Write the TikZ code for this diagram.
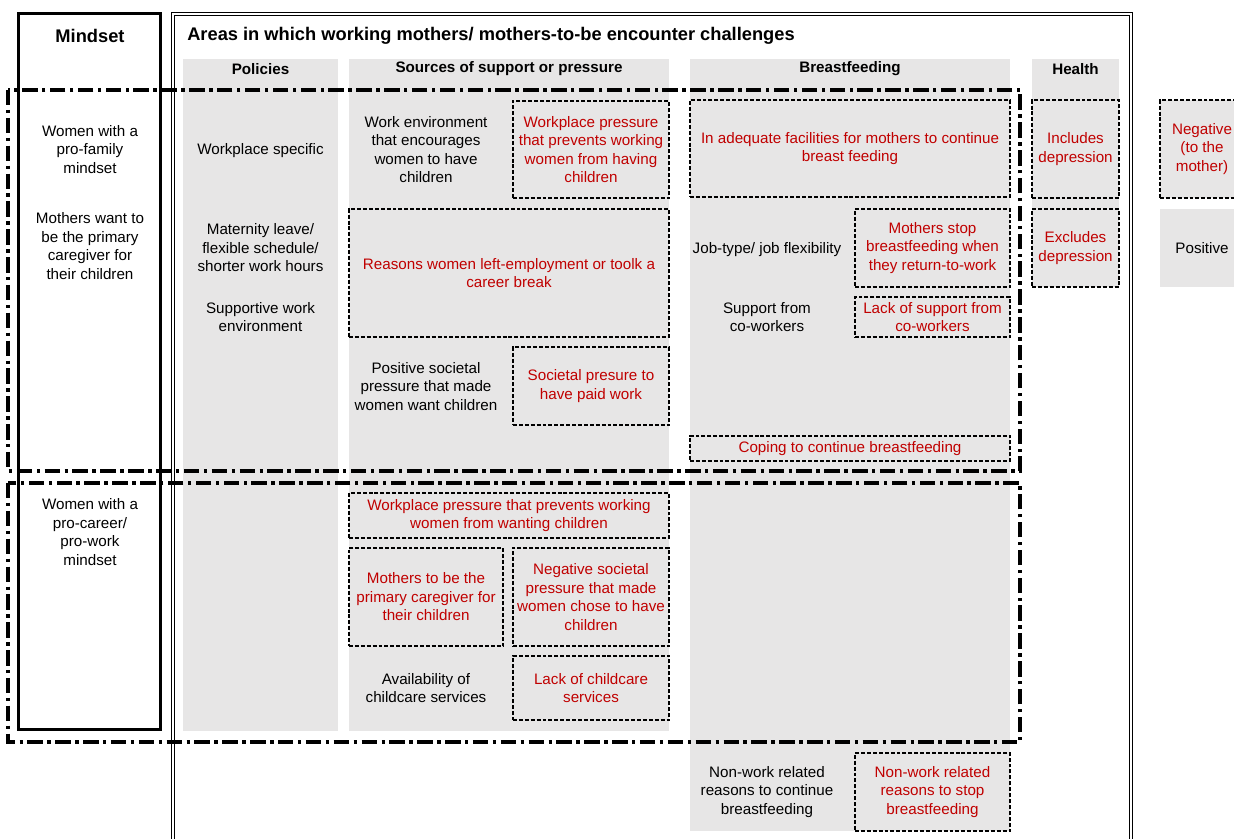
\documentclass[tikz,border=0pt]{standalone}
\usepackage{fontspec}
\setmainfont{Liberation Sans}
\definecolor{boxgrey}{HTML}{E7E6E6}
\definecolor{negred}{HTML}{C00000}

\begin{document}
\begin{tikzpicture}[x=0.025cm, y=-0.025cm,
    font=\fontsize{10.8}{13.2}\selectfont,
    boxsize/.style 2 args={minimum width=#1*0.025cm, minimum height=#2*0.025cm},
    plainbox/.style={align=center, inner sep=0pt},
    colfill/.style={fill=boxgrey, inner sep=0pt},
    negbox/.style={draw, fill=boxgrey, text=negred, align=center, inner sep=0pt,
      line width=1pt, dash pattern=on 2.8pt off 1.4pt},
    posbox/.style={fill=boxgrey, align=center, inner sep=0pt},
    heading/.style={inner sep=0pt, font=\fontsize{10.8}{13.2}\selectfont\bfseries},
    bighead/.style={inner sep=0pt, font=\fontsize{13}{15}\selectfont\bfseries},
    zone/.style={line width=2.5pt, dash pattern=on 11pt off 3.2pt on 2.4pt off 3.2pt}]
  \clip (0,0) rectangle (1234,839);

  % grey columns
  \node[colfill, boxsize={155}{672}] (polcol) at (260.5,395) {};
  \node[colfill, boxsize={320}{672}] (srccol) at (509,395) {};
  \node[colfill, boxsize={320}{772}] (bfcol) at (850,445) {};
  \node[colfill, boxsize={87}{228}] (hlthcol) at (1075.5,173) {};

  % frames
  \draw[double, line width=0.9pt, double distance=1.4pt] (173,14) rectangle (1131,900);
  \draw[line width=2.1pt] (18.5,13.5) rectangle (160.5,729.5);

  % headings
  \node[bighead] (mindhd) at (90,36) {Mindset};
  \node[bighead, anchor=west] (areashd) at (187,36) {Areas in which working mothers/ mothers-to-be encounter challenges};
  \node[heading] (polhd) at (260.5,69) {Policies};
  \node[heading] (srchd) at (509,69) {Sources of support or pressure};
  \node[heading] (bfhd) at (850,69) {Breastfeeding};
  \node[heading] (hlthhd) at (1075.5,69) {Health};

  % mindsets
  \node[plainbox] (profam) at (90,149.5) {Women with a\\pro-family\\mindset};
  \node[plainbox] (primary) at (90,246) {Mothers want to\\be the primary\\caregiver for\\their children};
  \node[plainbox] (procar) at (90,532) {Women with a\\pro-career/\\pro-work\\mindset};

  % policies
  \node[plainbox] (wpspec) at (260.5,151) {Workplace specific};
  \node[plainbox] (matleave) at (260.5,248) {Maternity leave/\\flexible schedule/\\shorter work hours};
  \node[plainbox] (suppenv) at (260.5,317) {Supportive work\\environment};

  % sources of support or pressure
  \node[plainbox] (workenv) at (426,149.5) {Work environment\\that encourages\\women to have\\children};
  \node[negbox, boxsize={156}{97}] (wphaving) at (591,149.5) {Workplace pressure\\that prevents working\\women from having\\children};
  \node[negbox, boxsize={320}{128}] (leftemp) at (509,273) {Reasons women left-employment or toolk a\\career break};
  \node[plainbox] (possoc) at (426,386.5) {Positive societal\\pressure that made\\women want children};
  \node[negbox, boxsize={156}{78}] (paidwork) at (591,386) {Societal presure to\\have paid work};
  \node[negbox, boxsize={320}{45}] (wpwanting) at (509,515.5) {Workplace pressure that prevents working\\women from wanting children};
  \node[negbox, boxsize={154}{98}] (caregiver) at (426,597) {Mothers to be the\\primary caregiver for\\their children};
  \node[negbox, boxsize={156}{98}] (negsoc) at (591,597) {Negative societal\\pressure that made\\women chose to have\\children};
  \node[plainbox] (childcare) at (426,688) {Availability of\\childcare services};
  \node[negbox, boxsize={156}{64}] (nochildcare) at (591,688) {Lack of childcare\\services};

  % breastfeeding
  \node[negbox, boxsize={320}{97}] (facilities) at (850,148.5) {In adequate facilities for mothers to continue\\breast feeding};
  \node[plainbox] (jobtype) at (767,250) {Job-type/ job flexibility};
  \node[negbox, boxsize={155}{78}] (stopbf) at (932.5,248) {Mothers stop\\breastfeeding when\\they return-to-work};
  \node[plainbox] (cowork) at (767,317) {Support from\\co-workers};
  \node[negbox, boxsize={155}{40}] (nocowork) at (932.5,317) {Lack of support from\\co-workers};
  \node[negbox, boxsize={320}{25}] (coping) at (850,448.5) {Coping to continue breastfeeding};
  \node[plainbox] (nonworkgo) at (767,792) {Non-work related\\reasons to continue\\breastfeeding};
  \node[negbox, boxsize={155}{78}] (nonworkstop) at (932.5,792) {Non-work related\\reasons to stop\\breastfeeding};

  % health
  \node[negbox, boxsize={87}{98}] (incdep) at (1075.5,149) {Includes\\depression};
  \node[negbox, boxsize={87}{78}] (excdep) at (1075.5,248) {Excludes\\depression};

  % key
  \node[negbox, boxsize={84}{98}] (negative) at (1202,149) {Negative\\(to the\\mother)};
  \node[posbox, boxsize={84}{78}] (positive) at (1202,248) {Positive};

  % mindset zones
  \draw[zone] (8,90) rectangle (1020,471);
  \draw[zone] (8,483) rectangle (1020,742);
\end{tikzpicture}
\end{document}
